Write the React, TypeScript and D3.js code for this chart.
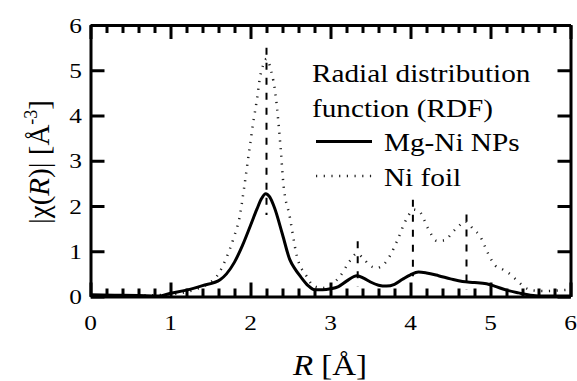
import { useEffect, useRef } from 'react';
import * as d3 from 'd3';

// Mg-Ni NPs |chi(R)|
const npsR = [0.0, 0.3, 0.6, 0.85, 1.0, 1.2, 1.4, 1.62, 1.7, 1.8, 1.9, 2.0, 2.08, 2.14, 2.19, 2.24, 2.3, 2.4, 2.49, 2.56, 2.63, 2.72, 2.8, 2.9, 3.0, 3.1, 3.2, 3.33, 3.42, 3.5, 3.6, 3.7, 3.8, 3.9, 4.0, 4.1, 4.2, 4.35, 4.5, 4.65, 4.8, 4.95, 5.05, 5.2, 5.35, 5.5, 5.7, 6.0];
const npsChi = [0.04, 0.03, 0.02, 0.01, 0.07, 0.14, 0.24, 0.37, 0.5, 0.76, 1.13, 1.57, 1.93, 2.17, 2.27, 2.2, 1.96, 1.37, 0.82, 0.6, 0.43, 0.24, 0.15, 0.15, 0.17, 0.22, 0.34, 0.46, 0.4, 0.32, 0.25, 0.23, 0.27, 0.38, 0.48, 0.54, 0.52, 0.46, 0.39, 0.33, 0.31, 0.28, 0.23, 0.14, 0.08, 0.03, 0.01, 0.01];

// Ni foil |chi(R)|
const foilR = [0.0, 0.4, 0.8, 1.0, 1.2, 1.35, 1.45, 1.58, 1.66, 1.74, 1.8, 1.86, 1.92, 1.99, 2.04, 2.08, 2.12, 2.16, 2.2, 2.26, 2.31, 2.35, 2.38, 2.41, 2.49, 2.58, 2.7, 2.79, 2.9, 3.0, 3.12, 3.24, 3.33, 3.41, 3.49, 3.58, 3.66, 3.74, 3.83, 3.95, 4.04, 4.12, 4.22, 4.33, 4.43, 4.52, 4.6, 4.68, 4.78, 4.87, 4.97, 5.06, 5.15, 5.24, 5.34, 5.43, 5.55, 5.7, 5.9, 6.0];
const foilChi = [0.02, 0.02, 0.03, 0.05, 0.1, 0.18, 0.26, 0.45, 0.7, 1.04, 1.35, 1.72, 2.4, 3.3, 3.91, 4.35, 4.86, 5.12, 5.25, 4.97, 4.5, 3.83, 3.2, 2.51, 1.77, 0.89, 0.45, 0.23, 0.19, 0.25, 0.45, 0.78, 0.95, 0.84, 0.69, 0.63, 0.7, 0.89, 1.22, 1.71, 1.92, 1.86, 1.5, 1.23, 1.24, 1.41, 1.55, 1.66, 1.5, 1.33, 0.95, 0.68, 0.6, 0.5, 0.34, 0.2, 0.13, 0.12, 0.14, 0.15];

// dashed reference lines
const refR = [2.2, 3.34, 4.03, 4.7];
const refTop = [5.5, 1.22, 2.14, 1.81];
const refBottom = [1.8, 0.22, 0.45, 0.15];

const legendTitle = ['Radial distribution', 'function (RDF)'];
const seriesNames = ['Mg-Ni NPs', 'Ni foil'];

const xTicks = [0, 1, 2, 3, 4, 5, 6];
const yTicks = [0, 1, 2, 3, 4, 5, 6];

const FONT = 'Liberation Serif';
const W = 577;
const H = 381;

export default function App() {
  const svgRef = useRef<SVGSVGElement>(null);

  useEffect(() => {
    if (!svgRef.current) return;
    const svg = d3.select(svgRef.current);
    svg.selectAll('*').remove();

    const x = d3.scaleLinear().domain([0, 6]).range([90.5, 570.5]);
    const y = d3.scaleLinear().domain([0, 6]).range([296.5, 25]);
    const minorX = d3.range(0, 31).map((i) => i / 5);

    const line = d3
      .line<[number, number]>()
      .x((d) => x(d[0]))
      .y((d) => y(d[1]))
      .curve(d3.curveMonotoneX);

    // dashed reference lines
    svg
      .selectAll('line.ref')
      .data(refR)
      .enter()
      .append('line')
      .attr('class', 'ref')
      .attr('x1', (d) => x(d))
      .attr('x2', (d) => x(d))
      .attr('y1', (_, i) => y(refTop[i]))
      .attr('y2', (_, i) => y(refBottom[i]))
      .attr('stroke', 'black')
      .attr('stroke-width', 2)
      .attr('stroke-dasharray', '7 8');

    svg
      .append('path')
      .attr('d', line(foilR.map((r, i) => [r, foilChi[i]] as [number, number])))
      .attr('fill', 'none')
      .attr('stroke', '#222')
      .attr('stroke-width', 2.5)
      .attr('stroke-dasharray', '1.2 6.5');

    svg
      .append('path')
      .attr('d', line(npsR.map((r, i) => [r, npsChi[i]] as [number, number])))
      .attr('fill', 'none')
      .attr('stroke', 'black')
      .attr('stroke-width', 3);

    // axes with inward ticks
    const style = (g: d3.Selection<SVGGElement, unknown, null, undefined>) => {
      g.select('.domain').attr('stroke', 'black').attr('stroke-width', 3);
      g.selectAll('.tick line').attr('stroke', 'black').attr('stroke-width', 3);
      g.selectAll('.tick text').remove();
    };

    const bottomAx = svg.append('g').attr('transform', `translate(0,${y(0)})`);
    bottomAx.call(d3.axisBottom(x).tickValues(minorX).tickSizeInner(-8).tickSizeOuter(0));
    bottomAx.selectAll('.tick line').filter((d: any) => Math.abs(d - Math.round(d)) < 1e-6).attr('y2', -14);
    style(bottomAx);

    const topAx = svg.append('g').attr('transform', `translate(0,${y(6)})`);
    topAx.call(d3.axisTop(x).tickValues(minorX).tickSizeInner(-8).tickSizeOuter(0));
    topAx.selectAll('.tick line').filter((d: any) => Math.abs(d - Math.round(d)) < 1e-6).attr('y2', 14);
    style(topAx);

    const leftAx = svg.append('g').attr('transform', `translate(${x(0)},0)`);
    leftAx.call(d3.axisLeft(y).tickValues(yTicks).tickSizeInner(-14).tickSizeOuter(0));
    style(leftAx);

    const rightAx = svg.append('g').attr('transform', `translate(${x(6)},0)`);
    rightAx.call(d3.axisRight(y).tickValues(yTicks).tickSizeInner(-13).tickSizeOuter(0));
    style(rightAx);

    // tick labels
    xTicks.forEach((v) => {
      svg
        .append('text')
        .attr('transform', `translate(${x(v)},330) scale(1.15,1)`)
        .attr('text-anchor', 'middle')
        .attr('font-family', FONT)
        .attr('font-size', 22)
        .text(String(v));
    });
    yTicks.forEach((v) => {
      svg
        .append('text')
        .attr('transform', `translate(82,${y(v) + 7.5}) scale(1.15,1)`)
        .attr('text-anchor', 'end')
        .attr('font-family', FONT)
        .attr('font-size', 22)
        .text(String(v));
    });

    // axis titles
    const xt = svg
      .append('text')
      .attr('transform', 'translate(330,375) scale(1.1,1)')
      .attr('text-anchor', 'middle')
      .attr('font-family', FONT)
      .attr('font-size', 30);
    xt.append('tspan').attr('font-style', 'italic').text('R');
    xt.append('tspan').text(' [Å]');

    const yt = svg
      .append('text')
      .attr('transform', 'translate(49,162) rotate(-90)')
      .attr('text-anchor', 'middle')
      .attr('font-family', FONT)
      .attr('font-size', 29);
    yt.append('tspan').text('|χ(');
    yt.append('tspan').attr('font-style', 'italic').text('R');
    yt.append('tspan').text(')| [Å');
    yt.append('tspan').attr('font-size', 18).attr('dy', -12).text('-3');
    yt.append('tspan').attr('dy', 12).text(']');

    // legend
    legendTitle.forEach((t, i) => {
      svg
        .append('text')
        .attr('transform', `translate(312,${82 + i * 34.5}) scale(1.17,1)`)
        .attr('font-family', FONT)
        .attr('font-size', 25)
        .text(t);
    });
    seriesNames.forEach((name, i) => {
      const ly = 151 + i * 34.5;
      svg
        .append('line')
        .attr('x1', 316)
        .attr('x2', 372)
        .attr('y1', ly - 9.5)
        .attr('y2', ly - 9.5)
        .attr('stroke', i === 0 ? 'black' : '#222')
        .attr('stroke-width', i === 0 ? 3 : 2.5)
        .attr('stroke-dasharray', i === 0 ? null : '1.2 6.5');
      svg
        .append('text')
        .attr('transform', `translate(384,${ly}) scale(1.17,1)`)
        .attr('font-family', FONT)
        .attr('font-size', 25)
        .text(name);
    });
  }, []);

  return (
    <svg
      ref={svgRef}
      width={W}
      height={H}
      style={{ display: 'block', position: 'absolute', left: 0, top: 0, background: '#fff' }}
    />
  );
}
